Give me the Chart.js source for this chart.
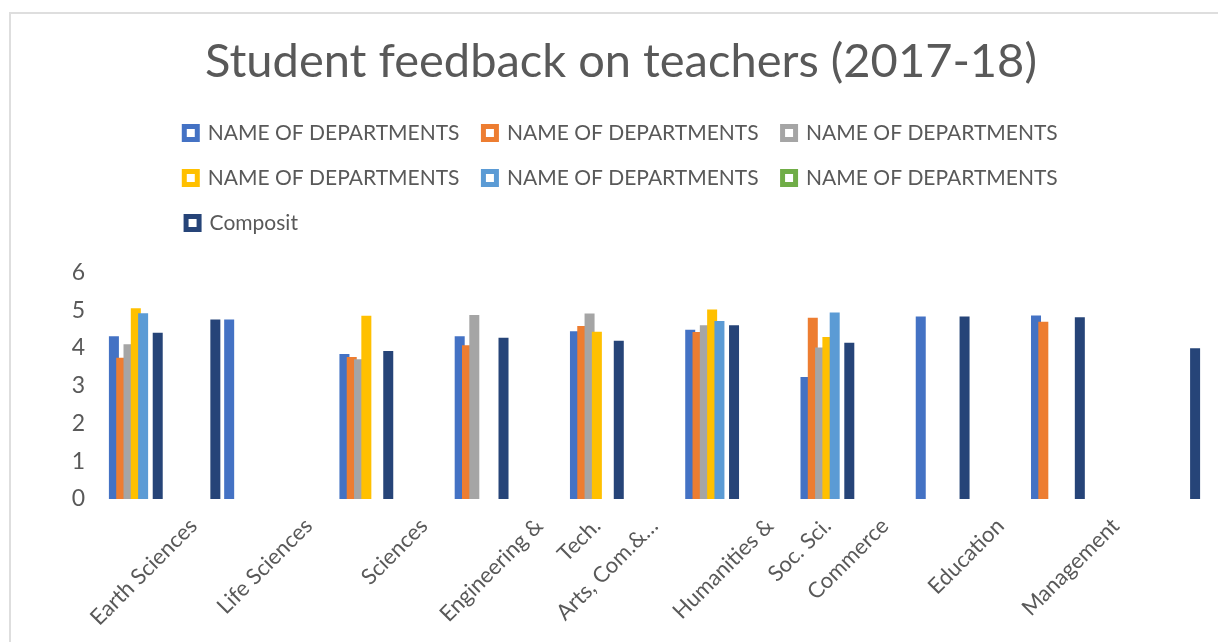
<!DOCTYPE html>
<html>
<head>
<meta charset="utf-8">
<title>Student feedback on teachers (2017-18)</title>
<script src="https://cdn.jsdelivr.net/npm/chart.js@4.4.0/dist/chart.umd.min.js"></script>
<style>
  html, body { margin: 0; padding: 0; background: #fff; overflow: hidden; }
  #wrap { position: relative; width: 1218px; height: 642px; }
  #frame { position: absolute; left: 9px; top: 12px; width: 1260px; height: 700px;
           border: 2px solid #dedede; box-sizing: border-box; pointer-events: none; }
</style>
</head>
<body>
<div id="wrap">
  <canvas id="feedbackChart" width="1218" height="642"></canvas>
  <div id="frame"></div>
</div>
<script>
// category labels (many slots have no label in the original sheet)
const categories = ['', 'Earth Sciences', '', 'Life Sciences', '', 'Sciences', '', 'Engineering &', 'Tech.',
  'Arts, Com.&…', '', 'Humanities &', 'Soc. Sci.', 'Commerce', '', 'Education', '', 'Management', ''];

const seriesNames = ['NAME OF DEPARTMENTS', 'NAME OF DEPARTMENTS', 'NAME OF DEPARTMENTS',
  'NAME OF DEPARTMENTS', 'NAME OF DEPARTMENTS', 'NAME OF DEPARTMENTS', 'Composit'];
const seriesColors = ['#4472C4', '#ED7D31', '#A5A5A5', '#FFC000', '#5B9BD5', '#70AD47', '#264478'];

// values
const dept1 = [4.31, null, 4.75, null, 3.84, null, 4.31, null, 4.44, null, 4.48, null, 3.23, null, 4.83, null, 4.86, null, null];
const dept2 = [3.74, null, null, null, 3.76, null, 4.07, null, 4.58, null, 4.42, null, 4.80, null, null, null, 4.69, null, null];
const dept3 = [4.10, null, null, null, 3.70, null, 4.87, null, 4.91, null, 4.60, null, 4.01, null, null, null, null, null, null];
const dept4 = [5.05, null, null, null, 4.85, null, null, null, 4.43, null, 5.02, null, 4.29, null, null, null, null, null, null];
const dept5 = [4.92, null, null, null, null, null, null, null, null, null, 4.71, null, 4.94, null, null, null, null, null, null];
const dept6 = [null, null, null, null, null, null, null, null, null, null, null, null, null, null, null, null, null, null, null];
const composit = [4.40, 4.75, null, null, 3.92, null, 4.27, null, 4.19, null, 4.60, null, 4.14, null, 4.83, null, 4.81, null, 3.99];

const yTicks = [0, 1, 2, 3, 4, 5, 6];

const textColor = '#595959';
const fontFamily = 'Lato, "Open Sans", sans-serif';
const legendFontSize = 21;
const legendBox = 13;
const legendPad = 24;

// Excel left-aligns the last legend row; pad it so Chart.js centring lines it up
const mctx = document.createElement('canvas').getContext('2d');
mctx.font = legendFontSize + 'px ' + fontFamily;
const itemW = t => legendBox + legendFontSize / 2 + mctx.measureText(t).width;
const rowW = 3 * itemW(seriesNames[0]) + 2 * legendPad;
let lastLabel = seriesNames[6];
while (itemW(lastLabel + ' ') <= rowW) lastLabel += ' ';

const allSeries = [dept1, dept2, dept3, dept4, dept5, dept6, composit];

const data = {
  labels: categories,
  datasets: allSeries.map((vals, i) => ({
    label: seriesNames[i],
    data: vals,
    backgroundColor: seriesColors[i],
    borderWidth: 0,
    categoryPercentage: 0.887,
    barPercentage: 1.37
  }))
};

// later series sit on top of earlier ones, as in Excel
const drawInOrder = {
  id: 'drawInOrder',
  beforeDatasetsDraw(chart) {
    chart.getSortedVisibleDatasetMetas().forEach(meta => meta.controller.draw());
    return false;
  }
};

// extra space under the legend
const legendGap = {
  id: 'legendGap',
  beforeInit(chart) {
    const fit = chart.legend.fit;
    chart.legend.fit = function () {
      fit.call(this);
      this.height = 174;
    };
  }
};

const config = {
  type: 'bar',
  data: data,
  plugins: [drawInOrder, legendGap],
  options: {
    responsive: false,
    animation: false,
    layout: { padding: { left: 40, right: 16, top: 0, bottom: 0 } },
    plugins: {
      title: {
        display: true,
        text: 'Student feedback on teachers (2017-18)',
        color: textColor,
        font: { family: fontFamily, size: 47, weight: 'normal' },
        padding: { top: 34, bottom: 8 }
      },
      legend: {
        position: 'top',
        labels: {
          color: textColor,
          font: { family: fontFamily, size: legendFontSize },
          boxWidth: legendBox,
          boxHeight: legendBox,
          padding: legendPad,
          generateLabels: chart => chart.data.datasets.map((ds, i) => ({
            text: i === 6 ? lastLabel : ds.label,
            fillStyle: '#ffffff',
            strokeStyle: ds.backgroundColor,
            lineWidth: 5,
            fontColor: textColor,
            hidden: !chart.isDatasetVisible(i),
            datasetIndex: i
          }))
        }
      },
      tooltip: { enabled: false }
    },
    scales: {
      x: {
        grid: { display: false, drawTicks: false },
        border: { display: false },
        ticks: {
          autoSkip: false,
          minRotation: 45,
          maxRotation: 45,
          padding: 14,
          color: textColor,
          font: { family: fontFamily, size: 22 }
        },
        afterFit: s => { s.height = 143; }
      },
      y: {
        min: yTicks[0],
        max: yTicks[yTicks.length - 1],
        grid: { display: false, drawTicks: false },
        border: { display: false },
        ticks: {
          stepSize: 1,
          padding: 22,
          color: textColor,
          font: { family: fontFamily, size: 23 }
        },
        afterFit: s => { s.width = 67; }
      }
    }
  }
};

new Chart(document.getElementById('feedbackChart').getContext('2d'), config);
</script>
</body>
</html>
